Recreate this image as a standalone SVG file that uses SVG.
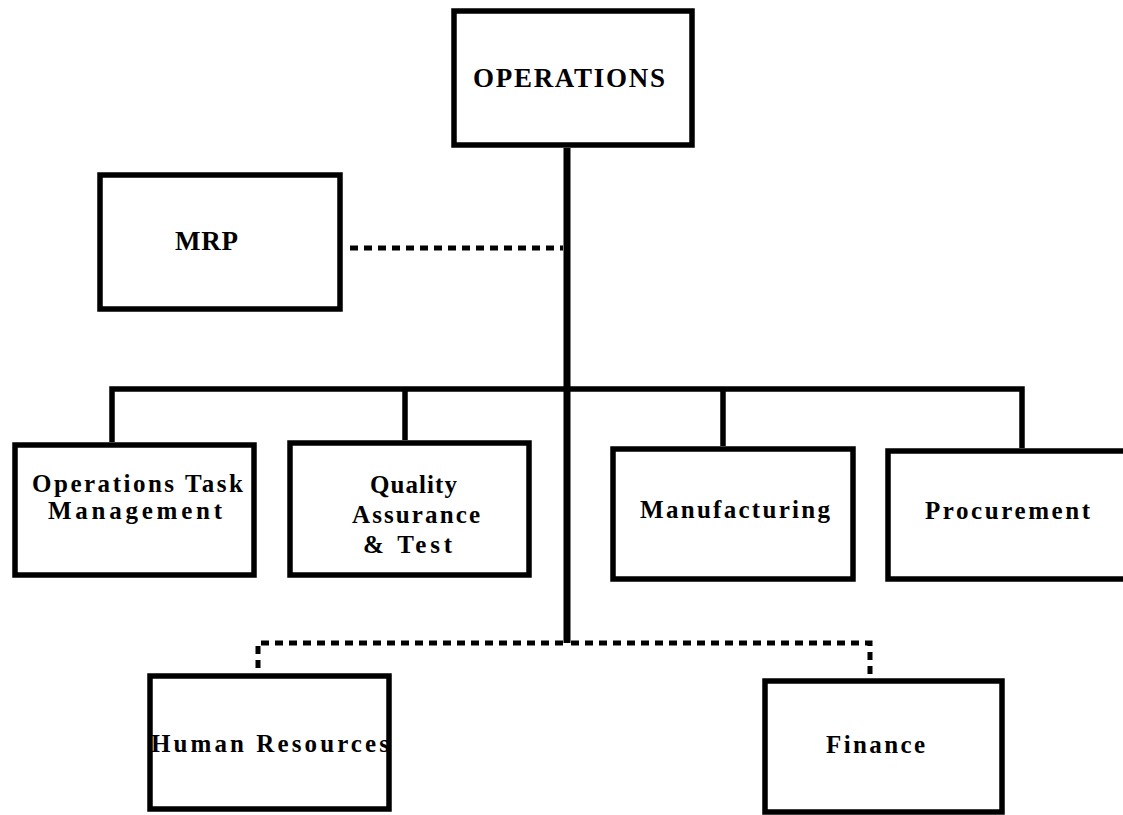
<svg xmlns="http://www.w3.org/2000/svg" width="1123" height="815" viewBox="0 0 1123 815">
<style>
.box{fill:#fff;stroke:#000;stroke-width:5.5}
.solid{fill:none;stroke:#000;stroke-width:5.5;stroke-linejoin:miter}
.dot{fill:none;stroke:#000;stroke-width:5;stroke-dasharray:8 6}
text{font-family:"Liberation Serif","Times New Roman",serif;font-weight:bold;fill:#000;font-size:25px}
.big{font-size:27px}
</style>
<rect width="1123" height="815" fill="#fff"/>
<g id="connectors">
<path class="solid" d="M567,148 V643" style="stroke-width:7"/>
<path class="solid" d="M112,442 V389 H1022 V448"/>
<path class="solid" d="M405,389 V440"/>
<path class="solid" d="M723,389 V446"/>
<path class="dot" d="M350,248 H563"/>
<path class="dot" d="M563,643 H258 V673"/>
<path class="dot" d="M571,643 H870 V678"/>
</g>
<g id="operations">
<rect class="box" x="454" y="11" width="238" height="134"/>
<text class="big" x="473" y="87" textLength="192" lengthAdjust="spacing">OPERATIONS</text>
</g>
<g id="mrp">
<rect class="box" x="100" y="175" width="240" height="134"/>
<text class="big" x="175" y="250" textLength="63" lengthAdjust="spacing">MRP</text>
</g>
<g id="otm">
<rect class="box" x="15" y="445" width="239" height="130"/>
<text x="32" y="492" textLength="211" lengthAdjust="spacing">Operations Task</text>
<text x="48" y="519" textLength="174" lengthAdjust="spacing">Management</text>
</g>
<g id="qa">
<rect class="box" x="290" y="443" width="239" height="132"/>
<text x="370" y="493" textLength="87" lengthAdjust="spacing">Quality</text>
<text x="352" y="523" textLength="128" lengthAdjust="spacing">Assurance</text>
<text x="363" y="553" textLength="89" lengthAdjust="spacing">&amp; Test</text>
</g>
<g id="manufacturing">
<rect class="box" x="613" y="449" width="240" height="130"/>
<text x="640" y="518" textLength="190" lengthAdjust="spacing">Manufacturing</text>
</g>
<g id="procurement">
<rect class="box" x="888" y="451" width="245" height="128"/>
<text x="925" y="519" textLength="165" lengthAdjust="spacing">Procurement</text>
</g>
<g id="hr">
<rect class="box" x="150" y="676" width="239" height="133"/>
<text x="151" y="752" textLength="238" lengthAdjust="spacing">Human Resources</text>
</g>
<g id="finance">
<rect class="box" x="765" y="681" width="237" height="131"/>
<text x="826" y="753" textLength="99" lengthAdjust="spacing">Finance</text>
</g>
</svg>
